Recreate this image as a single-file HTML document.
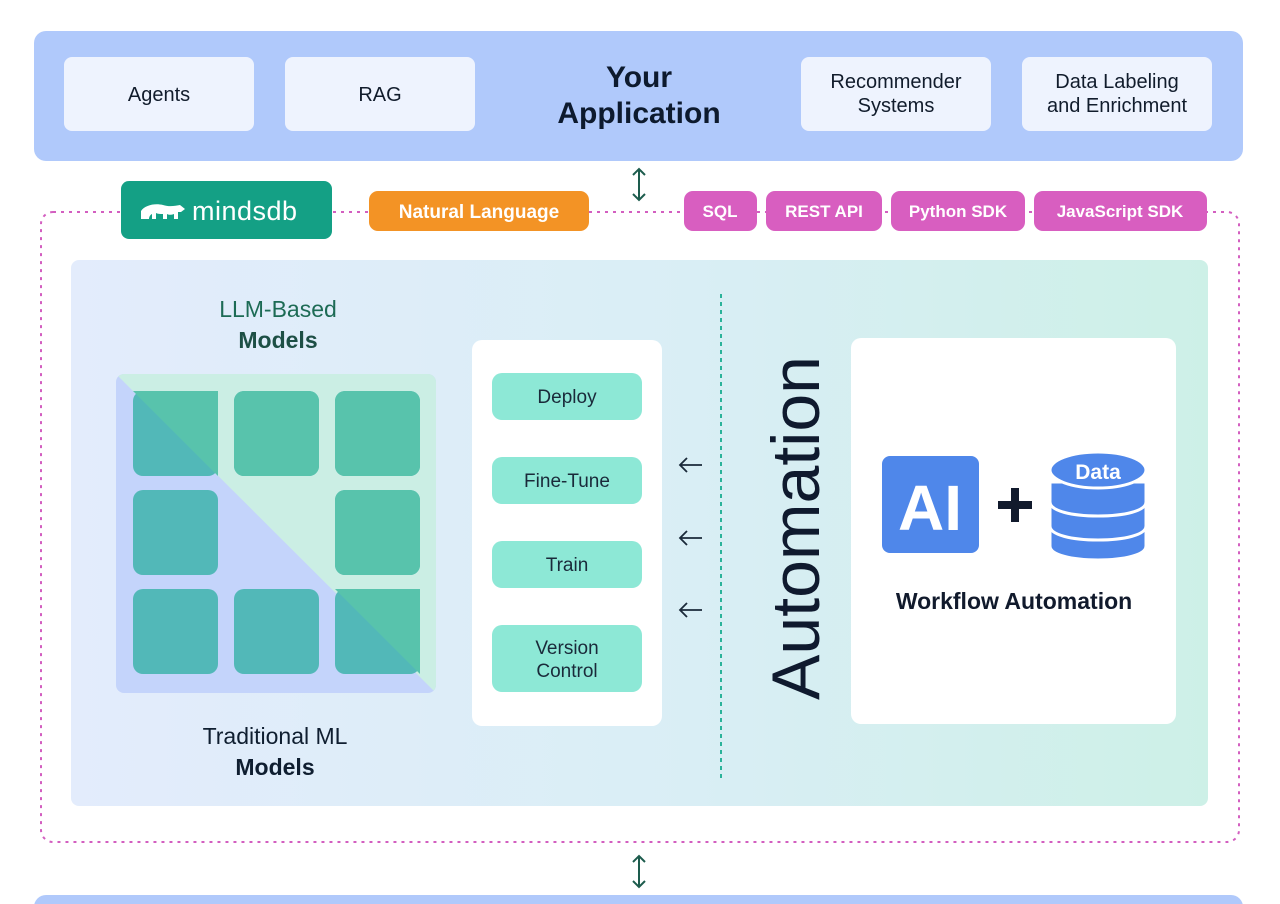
<!DOCTYPE html>
<html><head><meta charset="utf-8"><style>
html,body{margin:0;padding:0;background:#fff;}
svg{display:block;font-family:"Liberation Sans",Arial,sans-serif;}
</style></head><body>
<svg width="1280" height="904" viewBox="0 0 1280 904" xmlns="http://www.w3.org/2000/svg">
<defs>
<linearGradient id="pg" x1="0" y1="0" x2="1" y2="0">
<stop offset="0" stop-color="#e3ecfc"/><stop offset="0.55" stop-color="#d9eef5"/><stop offset="1" stop-color="#cdf0e7"/>
</linearGradient>
<clipPath id="gc"><rect x="116" y="374" width="320" height="319" rx="8"/></clipPath>
</defs>
<rect width="1280" height="904" fill="#fff"/>
<!-- top banner -->
<rect x="34" y="31" width="1209" height="130" rx="12" fill="#b0c9fb"/>
<g fill="#eef3fe">
<rect x="64" y="57" width="190" height="74" rx="8"/>
<rect x="285" y="57" width="190" height="74" rx="8"/>
<rect x="801" y="57" width="190" height="74" rx="8"/>
<rect x="1022" y="57" width="190" height="74" rx="8"/>
</g>
<g font-size="20" fill="#111c2c" text-anchor="middle">
<text x="159" y="101">Agents</text>
<text x="380" y="101">RAG</text>
<text x="896" y="88">Recommender</text>
<text x="896" y="112">Systems</text>
<text x="1117" y="88">Data Labeling</text>
<text x="1117" y="112">and Enrichment</text>
</g>
<g font-size="30" font-weight="bold" fill="#0d1a2e" text-anchor="middle">
<text x="639" y="87">Your</text>
<text x="639" y="123">Application</text>
</g>
<!-- double arrows -->
<g stroke="#1d5c4d" stroke-width="2" fill="none">
<path d="M639 169V200M633 175l6-6 6 6M633 194l6 6 6-6"/>
<path d="M639 856V887M633 862l6-6 6 6M633 881l6 6 6-6"/>
</g>
<!-- dotted border -->
<rect x="41" y="212" width="1198" height="630" rx="12" fill="none" stroke="#d35fc0" stroke-width="2" stroke-dasharray="3 5"/>
<!-- pills -->
<rect x="121" y="181" width="211" height="58" rx="8" fill="#14a085"/>
<g fill="#fff"><path d="M141 219v-8c4-6 14-8 22-6 6 2 12 1 17 0l5 4-4 3h-3v7h-4v-5c-3 1-5 1-7 0v5h-4v-5c-3 0-5 0-7-1v6h-4v-5c-2 1-3 3-3 5z"/></g>
<text x="192" y="220" font-size="27" fill="#fff" letter-spacing="0.5">mindsdb</text>
<rect x="369" y="191" width="220" height="40" rx="9" fill="#f39325"/>
<text x="479" y="218" font-size="19" font-weight="bold" fill="#fff" text-anchor="middle">Natural Language</text>
<g fill="#d85ec0">
<rect x="684" y="191" width="73" height="40" rx="9"/>
<rect x="766" y="191" width="116" height="40" rx="9"/>
<rect x="891" y="191" width="134" height="40" rx="9"/>
<rect x="1034" y="191" width="173" height="40" rx="9"/>
</g>
<g font-size="17" font-weight="bold" fill="#fff" text-anchor="middle">
<text x="720" y="217">SQL</text>
<text x="824" y="217">REST API</text>
<text x="958" y="217">Python SDK</text>
<text x="1120" y="217">JavaScript SDK</text>
</g>
<!-- main panel -->
<rect x="71" y="260" width="1137" height="546" rx="8" fill="url(#pg)"/>
<text x="278" y="317" font-size="23" fill="#1d6b55" text-anchor="middle">LLM-Based</text>
<text x="278" y="348" font-size="23" font-weight="bold" fill="#1d4f45" text-anchor="middle">Models</text>
<g clip-path="url(#gc)">
<rect x="116" y="374" width="320" height="319" fill="#c4d4fb"/>
<polygon points="116,374 436,374 436,693" fill="#cbeee4"/>
<g fill="#52b8b8">
<rect x="133" y="391" width="85" height="85" rx="10"/><rect x="234" y="391" width="85" height="85" rx="10"/><rect x="335" y="391" width="85" height="85" rx="10"/>
<rect x="133" y="490" width="85" height="85" rx="10"/><rect x="335" y="490" width="85" height="85" rx="10"/>
<rect x="133" y="589" width="85" height="85" rx="10"/><rect x="234" y="589" width="85" height="85" rx="10"/><rect x="335" y="589" width="85" height="85" rx="10"/>
</g>
<g fill="#58c3ac">
<polygon points="133,391 218,391 218,476"/>
<rect x="234" y="391" width="85" height="85" rx="10"/><rect x="335" y="391" width="85" height="85" rx="10"/><rect x="335" y="490" width="85" height="85" rx="10"/>
<polygon points="335,589 420,589 420,674"/>
</g>
</g>
<text x="275" y="744" font-size="23" fill="#0f1e30" text-anchor="middle">Traditional ML</text>
<text x="275" y="775" font-size="23" font-weight="bold" fill="#0f1e30" text-anchor="middle">Models</text>
<rect x="472" y="340" width="190" height="386" rx="10" fill="#fff"/>
<g fill="#8de8d6">
<rect x="492" y="373" width="150" height="47" rx="10"/>
<rect x="492" y="457" width="150" height="47" rx="10"/>
<rect x="492" y="541" width="150" height="47" rx="10"/>
<rect x="492" y="625" width="150" height="67" rx="10"/>
</g>
<g font-size="19" fill="#1a2a3a" text-anchor="middle">
<text x="567" y="403">Deploy</text>
<text x="567" y="487">Fine-Tune</text>
<text x="567" y="571">Train</text>
<text x="567" y="654">Version</text>
<text x="567" y="677">Control</text>
</g>
<g stroke="#1a2a3a" stroke-width="1.8" fill="none">
<path d="M680 465h22M687 458l-7 7 7 7"/>
<path d="M680 538h22M687 531l-7 7 7 7"/>
<path d="M680 610h22M687 603l-7 7 7 7"/>
</g>
<line x1="721" y1="294" x2="721" y2="780" stroke="#2ab39a" stroke-width="2" stroke-dasharray="4 4"/>
<text transform="translate(819,528) rotate(-90)" font-size="68" fill="#0f1a2e" text-anchor="middle">Automation</text>
<rect x="851" y="338" width="325" height="386" rx="10" fill="#fff"/>
<rect x="882" y="456" width="97" height="97" rx="8" fill="#4f87ea"/>
<text x="930" y="530" font-size="64" font-weight="bold" fill="#fff" text-anchor="middle">AI</text>
<path d="M1015 488v34M998 505h34" stroke="#111a2c" stroke-width="8"/>
<g fill="#4f87ea" stroke="#fff" stroke-width="3">
<path d="M1050 530v16c0 9 22 14 48 14s48-5 48-14v-16z"/>
<path d="M1050 506v20c0 9 22 14 48 14s48-5 48-14v-20z"/>
<path d="M1050 482v20c0 9 22 14 48 14s48-5 48-14v-20z"/>
<ellipse cx="1098" cy="470" rx="48" ry="18"/>
</g>
<text x="1098" y="479" font-size="21" font-weight="bold" fill="#fff" text-anchor="middle">Data</text>
<text x="1014" y="609" font-size="23" font-weight="bold" fill="#111a2c" text-anchor="middle">Workflow Automation</text>
<!-- bottom band -->
<rect x="34" y="895" width="1209" height="40" rx="12" fill="#b0c9fb"/>
</svg>
</body></html>
